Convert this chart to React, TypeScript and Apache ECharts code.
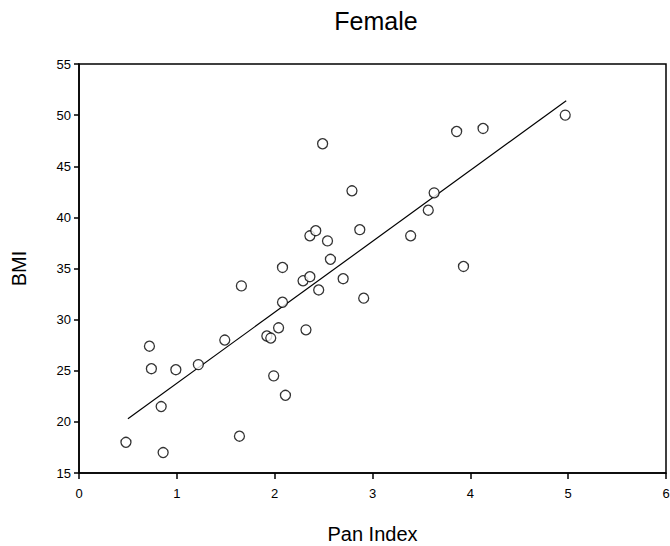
import React, { useEffect, useRef } from "react";
import * as echarts from "echarts";

const panIndex = [0.48, 0.86, 0.84, 0.72, 0.74, 0.99, 1.22, 1.49, 1.64, 1.66, 1.92, 1.96, 1.99, 2.04, 2.11, 2.08, 2.08, 2.29, 2.32, 2.36, 2.42, 2.36, 2.45, 2.49, 2.54, 2.57, 2.7, 2.79, 2.87, 2.91, 3.39, 3.57, 3.63, 3.93, 3.86, 4.13, 4.97];
const bmi = [18.0, 17.0, 21.5, 27.4, 25.2, 25.1, 25.6, 28.0, 18.6, 33.3, 28.4, 28.2, 24.5, 29.2, 22.6, 35.1, 31.7, 33.8, 29.0, 38.2, 38.7, 34.2, 32.9, 47.2, 37.7, 35.9, 34.0, 42.6, 38.8, 32.1, 38.2, 40.7, 42.4, 35.2, 48.4, 48.7, 50.0];
const fitX = [0.5, 4.98];
const fitY = [20.3, 51.4];
const xTicks = [0, 1, 2, 3, 4, 5, 6];
const yTicks = [15, 20, 25, 30, 35, 40, 45, 50, 55];

export default function App() {
  const ref = useRef<HTMLDivElement>(null);
  useEffect(() => {
    const chart = echarts.init(ref.current!, null, { renderer: "svg" });
    const font = "Liberation Sans, Arial, sans-serif";
    chart.setOption({
      animation: false,
      backgroundColor: "#fff",
      title: {
        text: "Female",
        left: 371,
        top: 3,
        textAlign: "center",
        textStyle: { fontFamily: font, fontSize: 25, fontWeight: "normal", color: "#000" },
      },
      grid: {
        left: 79,
        right: 4,
        top: 64,
        bottom: 73,
        containLabel: false,
        outerBoundsMode: "none",
        show: true,
        borderColor: "#000",
        borderWidth: 1.5,
        backgroundColor: "transparent",
      },
      xAxis: {
        type: "value",
        min: xTicks[0],
        max: xTicks[xTicks.length - 1],
        interval: 1,
        name: "Pan Index",
        nameLocation: "middle",
        nameGap: 51,
        nameTextStyle: { fontFamily: font, fontSize: 20, color: "#000" },
        axisLine: { show: true, lineStyle: { color: "#000", width: 1.5 } },
        axisTick: { show: true, length: 6, lineStyle: { color: "#000", width: 1.5 } },
        axisLabel: { fontFamily: font, fontSize: 13, color: "#000", margin: 14 },
        splitLine: { show: false },
      },
      yAxis: {
        type: "value",
        min: yTicks[0],
        max: yTicks[yTicks.length - 1],
        interval: 5,
        name: "BMI",
        nameLocation: "middle",
        nameGap: 50,
        nameRotate: 90,
        nameTextStyle: { fontFamily: font, fontSize: 20, color: "#000" },
        axisLine: { show: true, lineStyle: { color: "#000", width: 1.5 } },
        axisTick: { show: true, length: 5, lineStyle: { color: "#000", width: 1.5 } },
        axisLabel: { fontFamily: font, fontSize: 13, color: "#000", margin: 8 },
        splitLine: { show: false },
      },
      series: [
        {
          type: "line",
          data: fitX.map((x, i) => [x, fitY[i]]),
          showSymbol: false,
          symbol: "none",
          lineStyle: { color: "#000", width: 1.2 },
          silent: true,
          z: 1,
        },
        {
          type: "scatter",
          data: panIndex.map((x, i) => [x, bmi[i]]),
          symbol: "circle",
          symbolSize: 10,
          itemStyle: { color: "#fff", borderColor: "#000", borderWidth: 1.3 },
          z: 2,
        },
      ],
    });
    return () => chart.dispose();
  }, []);
  return (
    <div
      ref={ref}
      style={{ position: "fixed", left: 0, top: 0, width: 670, height: 546, background: "#fff" }}
    />
  );
}
